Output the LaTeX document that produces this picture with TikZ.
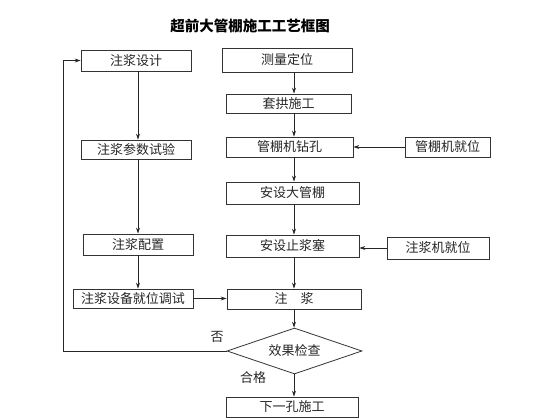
\documentclass[tikz,border=0pt]{standalone}
\usepackage{fontspec}
\setmainfont{Noto Sans CJK SC}
\usetikzlibrary{shapes.geometric,arrows.meta}
\begin{document}
\begin{tikzpicture}[x=1pt,y=-1pt,
  box/.style={draw=black!80,line width=0.8pt,rectangle,inner sep=0pt,font=\fontsize{13}{13}\selectfont,text=black!85},
  arr/.style={draw=black!85,line width=0.8pt,-{Stealth[length=6pt,width=4pt]}},
  lbl/.style={font=\fontsize{13}{13}\selectfont,text=black!85,inner sep=0pt}]
\useasboundingbox (0,0) rectangle (560,420);
\node[font=\bfseries\fontsize{14.5}{14.5}\selectfont,inner sep=0pt] (title) at (250,26) {超前大管棚施工工艺框图};
% left column
\node[box,minimum width=110pt,minimum height=21pt] (sj) at (136,60.5) {注浆设计};
\node[box,minimum width=110pt,minimum height=19pt] (cs) at (136,149.5) {注浆参数试验};
\node[box,minimum width=110pt,minimum height=21pt] (pz) at (138,244.5) {注浆配置};
\node[box,minimum width=120pt,minimum height=19pt] (ts) at (133,298.5) {注浆设备就位调试};
% center column
\node[box,minimum width=130pt,minimum height=24pt] (cl) at (287,60) {测量定位};
\node[box,minimum width=125pt,minimum height=19pt] (tg) at (288.5,103.5) {套拱施工};
\node[box,minimum width=127pt,minimum height=20pt] (zk) at (289.5,147) {管棚机钻孔};
\node[box,minimum width=133pt,minimum height=22pt] (dg) at (292.5,193) {安设大管棚};
\node[box,minimum width=133pt,minimum height=22pt] (zs) at (292.5,246) {安设止浆塞};
\node[box,minimum width=134pt,minimum height=20pt] (zj) at (294,299) {注\hspace{1em}浆};
\node[box,diamond,minimum width=135pt,minimum height=46pt,aspect=2.9] (dm) at (294.5,351) {效果检查};
\node[box,minimum width=132pt,minimum height=20pt] (xy) at (292,407) {下一孔施工};
% right column
\node[box,minimum width=85pt,minimum height=20pt] (jw) at (447.5,147) {管棚机就位};
\node[box,minimum width=102pt,minimum height=22pt] (zw) at (438,248) {注浆机就位};
% labels
\node[lbl] (no) at (217,337) {否};
\node[lbl] (ok) at (253,378) {合格};
% helper coordinates
\coordinate (cx) at (294,0);
\coordinate (lx) at (138,0);
\coordinate (lc) at (63,351);
% center arrows
\draw[arr] (cl.south -| cx) -- (tg.north -| cx);
\draw[arr] (tg.south -| cx) -- (zk.north -| cx);
\draw[arr] (zk.south -| cx) -- (dg.north -| cx);
\draw[arr] (dg.south -| cx) -- (zs.north -| cx);
\draw[arr] (zs.south -| cx) -- (zj.north -| cx);
\draw[arr] (zj.south -| cx) -- (dm.north -| cx);
\draw[arr] (dm.south -| cx) -- (xy.north -| cx);
% left arrows
\draw[arr] (sj.south -| lx) -- (cs.north -| lx);
\draw[arr] (cs.south -| lx) -- (pz.north -| lx);
\draw[arr] (pz.south -| lx) -- (ts.north -| lx);
\draw[arr] (ts.east) -- (zj.west |- ts.east);
% right arrows
\draw[arr] (jw.west) -- (zk.east |- jw.west);
\draw[arr] (zw.west) -- (zs.east |- zw.west);
% loop
\draw[arr] (dm.west) -- (lc) |- (sj.west);
\end{tikzpicture}
\end{document}
